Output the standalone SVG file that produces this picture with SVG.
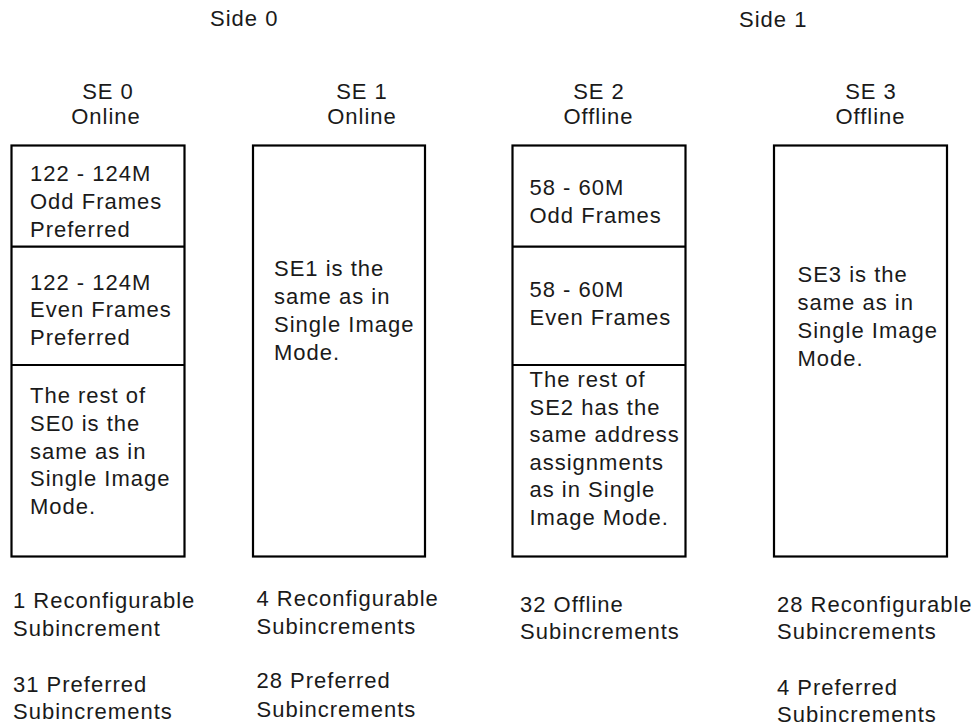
<svg xmlns="http://www.w3.org/2000/svg" width="979" height="725" viewBox="0 0 979 725">
<style>
text{font-family:"Liberation Sans",Arial,Helvetica,sans-serif;font-size:22px;letter-spacing:1px;fill:#1a1a1a}
.hd{text-anchor:middle}
.box{fill:#fff;stroke:#000;stroke-width:2.2}
.div{stroke:#000;stroke-width:2.2}
</style>
<rect width="979" height="725" fill="#fff"/>
<g id="sides">
<text x="210" y="26">Side 0</text>
<text x="739" y="27">Side 1</text>
</g>
<g id="se0">
<text class="hd" x="108" y="99">SE 0</text>
<text class="hd" x="106" y="124">Online</text>
<rect class="box" x="11.5" y="145.5" width="173" height="411"/>
<line class="div" x1="11.5" y1="246.7" x2="184.5" y2="246.7"/>
<line class="div" x1="11.5" y1="365" x2="184.5" y2="365"/>
<text x="30" y="181">122 - 124M</text>
<text x="30" y="208.5">Odd Frames</text>
<text x="30" y="236.5">Preferred</text>
<text x="30" y="289.5">122 - 124M</text>
<text x="30" y="317">Even Frames</text>
<text x="30" y="345">Preferred</text>
<text x="30" y="403">The rest of</text>
<text x="30" y="431">SE0 is the</text>
<text x="30" y="458.5">same as in</text>
<text x="30" y="486">Single Image</text>
<text x="30" y="514">Mode.</text>
<text x="13" y="608">1 Reconfigurable</text>
<text x="13" y="636">Subincrement</text>
<text x="13" y="691.5">31 Preferred</text>
<text x="13" y="718.5">Subincrements</text>
</g>
<g id="se1">
<text class="hd" x="362" y="98.5">SE 1</text>
<text class="hd" x="362" y="123.5">Online</text>
<rect class="box" x="253" y="145.5" width="172" height="411"/>
<text x="274" y="276">SE1 is the</text>
<text x="274" y="304">same as in</text>
<text x="274" y="332">Single Image</text>
<text x="274" y="360">Mode.</text>
<text x="256.5" y="605.5">4 Reconfigurable</text>
<text x="256.5" y="633.5">Subincrements</text>
<text x="256.5" y="688">28 Preferred</text>
<text x="256.5" y="716.5">Subincrements</text>
</g>
<g id="se2">
<text class="hd" x="599" y="98.5">SE 2</text>
<text class="hd" x="598.5" y="123.5">Offline</text>
<rect class="box" x="512.5" y="145.5" width="173" height="411"/>
<line class="div" x1="512.5" y1="246.7" x2="685.5" y2="246.7"/>
<line class="div" x1="512.5" y1="365" x2="685.5" y2="365"/>
<text x="529.5" y="195">58 - 60M</text>
<text x="529.5" y="222.5">Odd Frames</text>
<text x="529.5" y="297">58 - 60M</text>
<text x="529.5" y="324.5">Even Frames</text>
<text x="529.5" y="387">The rest of</text>
<text x="529.5" y="414.5">SE2 has the</text>
<text x="529.5" y="442">same address</text>
<text x="529.5" y="469.5">assignments</text>
<text x="529.5" y="497">as in Single</text>
<text x="529.5" y="524.5">Image Mode.</text>
<text x="520" y="611.5">32 Offline</text>
<text x="520" y="639">Subincrements</text>
</g>
<g id="se3">
<text class="hd" x="871" y="99">SE 3</text>
<text class="hd" x="870.5" y="124">Offline</text>
<rect class="box" x="774" y="145.5" width="173" height="411"/>
<text x="797.5" y="282">SE3 is the</text>
<text x="797.5" y="310">same as in</text>
<text x="797.5" y="338">Single Image</text>
<text x="797.5" y="366">Mode.</text>
<text x="777" y="611.5">28 Reconfigurable</text>
<text x="777" y="639">Subincrements</text>
<text x="777" y="695">4 Preferred</text>
<text x="777" y="721.5">Subincrements</text>
</g>
<g id="connectors"></g>
</svg>
